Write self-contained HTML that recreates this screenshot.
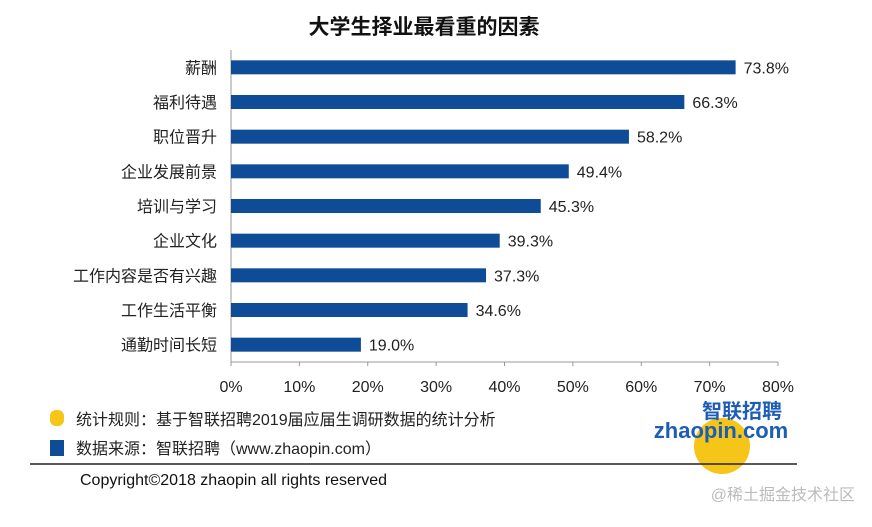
<!DOCTYPE html>
<html><head><meta charset="utf-8"><style>
body{margin:0;background:#fff;}
svg text{font-family:"Liberation Sans","Noto Sans CJK SC",sans-serif;}
</style></head><body>
<svg width="872" height="522" viewBox="0 0 872 522" id="chart">
<text x="424" y="34" text-anchor="middle" font-size="21" font-weight="bold" fill="#111">大学生择业最看重的因素</text>
<g id="plot"></g>
<rect x="50" y="410" width="14" height="16" rx="6" fill="#f5c518"/>
<text x="76" y="425" font-size="16" fill="#222">统计规则：基于智联招聘2019届应届生调研数据的统计分析</text>
<rect x="50" y="440" width="14" height="16" fill="#0f4c97"/>
<text x="76" y="454" font-size="16" fill="#222">数据来源：智联招聘（www.zhaopin.com）</text>
<g>
<circle cx="722" cy="446" r="28" fill="#f5c518"/>
<text x="742" y="418" text-anchor="middle" font-size="20" font-weight="bold" fill="#1e5db5">智联招聘</text>
<text x="721" y="438" text-anchor="middle" font-size="22" font-weight="bold" fill="#1e5db5">zhaopin.com</text>
</g>
<line x1="30" y1="464" x2="797" y2="464" stroke="#222" stroke-width="1.5"/>
<text x="80" y="485" font-size="16" fill="#111">Copyright©2018 zhaopin all rights reserved</text>
<text x="855" y="500" text-anchor="end" font-size="16" fill="#bbb">@稀土掘金技术社区</text>
</svg>
<script>
const categories=["薪酬","福利待遇","职位晋升","企业发展前景","培训与学习","企业文化","工作内容是否有兴趣","工作生活平衡","通勤时间长短"];
const values=[73.8,66.3,58.2,49.4,45.3,39.3,37.3,34.6,19.0];
const ticks=[0,10,20,30,40,50,60,70,80];
const NS="http://www.w3.org/2000/svg";
const g=document.getElementById("plot");
const x0=231,x1=778,yTop=50,yAxis=362;
const xs=v=>x0+(x1-x0)*v/80;
const band=(yAxis-yTop)/categories.length;
const yc=i=>yTop+band*(i+0.5);
function mk(t,a){const e=document.createElementNS(NS,t);for(const k in a)e.setAttribute(k,a[k]);g.appendChild(e);return e;}
let ax=mk("line",{x1:x0,y1:yTop,x2:x0,y2:yAxis+3,stroke:"#999","stroke-width":1});


let bx=mk("line",{x1:x0,y1:yAxis,x2:x1,y2:yAxis,stroke:"#999","stroke-width":1});


ticks.forEach(t=>{
 let tm=mk("line",{x1:xs(t),y1:yAxis,x2:xs(t),y2:yAxis+4,stroke:"#999"});
 
 
 let tl=mk("text",{x:xs(t),y:yAxis+30,"text-anchor":"middle","font-size":16,fill:"#222"});
 tl.textContent=t+"%";
 
 
});
categories.forEach((c,i)=>{
 let y=yc(i);
 let r=mk("rect",{x:x0,y:y-7,width:xs(values[i])-x0,height:14,fill:"#0f4c97"});
 
 
 let l=mk("text",{x:x0-14,y:y+6,"text-anchor":"end","font-size":16,fill:"#222"});
 l.textContent=c;
 
 
 let v=mk("text",{x:xs(values[i])+8,y:y+6,"font-size":16,fill:"#222"});
 v.textContent=values[i].toFixed(1)+"%";
 
 
});
</script>
</body></html>
